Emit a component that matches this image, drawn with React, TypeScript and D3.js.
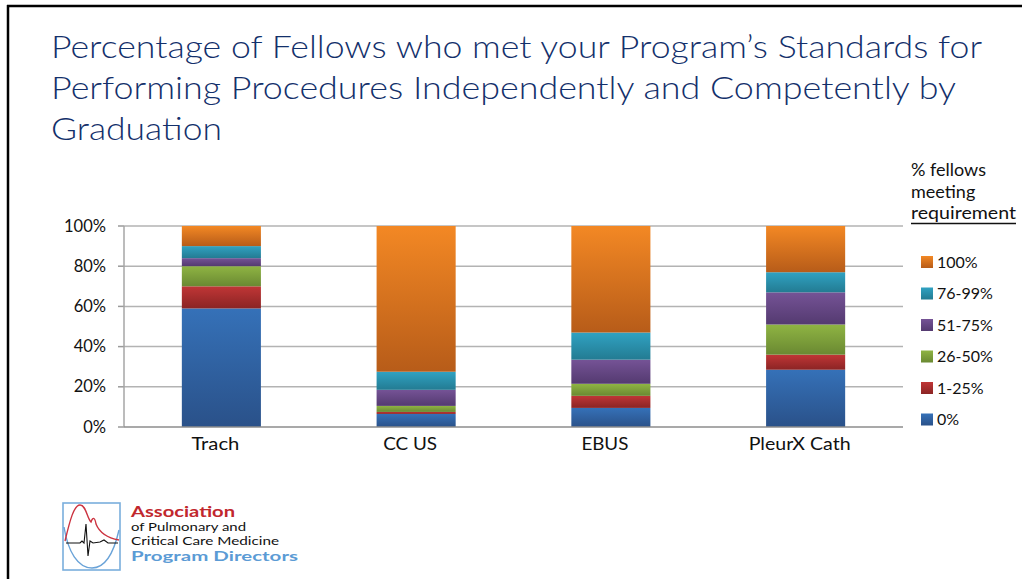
import React from "react";
import * as d3 from "d3";

const categories = ["Trach", "CC US", "EBUS", "PleurX Cath"];
const seriesKeys = ["0%", "1-25%", "26-50%", "51-75%", "76-99%", "100%"];
const pct0 = [59, 6.5, 9.5, 28.5];
const pct1to25 = [11, 1, 6, 7.5];
const pct26to50 = [10, 3, 6, 15];
const pct51to75 = [4, 8, 12, 16];
const pct76to99 = [6, 9, 13.5, 10];
const pct100 = [10, 72.5, 53, 23];
const yTicks = [0, 20, 40, 60, 80, 100];
const legendOrder = ["100%", "76-99%", "51-75%", "26-50%", "1-25%", "0%"];
const colorTop = ["#3571b8", "#c03636", "#8fb443", "#755396", "#30a2c2", "#f38824"];
const colorBottom = ["#2a5189", "#8b2424", "#6a8932", "#543a70", "#237b92", "#b75c19"];
const titleLines = [
  "Percentage of Fellows who met your Program\u2019s Standards for",
  "Performing Procedures Independently and Competently by",
  "Graduation",
];

export default function App() {
  const W = 1022, H = 579;
  const left = 124, right = 903, top = 226, bottom = 427;
  const x = d3.scaleBand().domain(categories).range([left, right]).padding(0);
  const y = d3.scaleLinear().domain([0, 100]).range([bottom, top]);
  const barW = x.bandwidth() * 0.406;
  const rows = categories.map((c, i) => ({
    cat: c,
    "0%": pct0[i],
    "1-25%": pct1to25[i],
    "26-50%": pct26to50[i],
    "51-75%": pct51to75[i],
    "76-99%": pct76to99[i],
    "100%": pct100[i],
  }));
  const stacked = d3.stack<any>().keys(seriesKeys)(rows);
  const font = "Lato, 'Open Sans', sans-serif";
  const titleFont = "Lato, 'Noto Sans', sans-serif";
  const titleLen = [931, 905, 171];
  const catLen = [48, 54, 47, 102];

  const red = "M65,541 C70,520 74,505 80,505 C86,505 87,518 91,522 C93,516 95,518 96,524 C100,534 108,538 119,540";
  const blue = "M64,527 C68,552 78,568 92,568 C106,568 114,552 119,530";
  const ecg = "M66,543 L80,543 L82,541 L84,543 L86,524 L88,556 L90,541 L93,543 L100,542 L104,540 L108,543 L118,543";

  return (
    <svg width={W} height={H} style={{ position: "absolute", left: 0, top: 0, background: "#fff" }}>
      <defs>
        {seriesKeys.map((k, i) => (
          <linearGradient key={k} id={`g${i}`} x1="0" y1="0" x2="0" y2="1">
            <stop offset="0" stopColor={colorTop[i]} />
            <stop offset="1" stopColor={colorBottom[i]} />
          </linearGradient>
        ))}
      </defs>
      <rect x={0} y={0} width={W} height={H} fill="#fff" />
      <line x1={7} y1={6} x2={W} y2={6} stroke="#000" strokeWidth={2.5} />
      <line x1={8} y1={5} x2={8} y2={H} stroke="#000" strokeWidth={2.5} />

      {titleLines.map((t, i) => (
        <text
          key={i}
          x={51}
          y={58 + i * 41}
          fontFamily={titleFont}
          fontWeight={300}
          fontSize={31}
          fill="#13306b"
          textLength={titleLen[i]}
          lengthAdjust="spacingAndGlyphs"
        >
          {t}
        </text>
      ))}

      {yTicks.map((t) => (
        <g key={t}>
          {t > 0 && (
            <line x1={left} x2={right} y1={y(t)} y2={y(t)} stroke="#b3b3b3" strokeWidth={1.5} />
          )}
          <line x1={left - 6} x2={left} y1={y(t)} y2={y(t)} stroke="#9a9a9a" strokeWidth={1.5} />
          <text x={106} y={y(t) + 5.5} textAnchor="end" fontFamily={font} fontSize={16.5} fill="#111">
            {t}%
          </text>
        </g>
      ))}
      <line x1={left} x2={left} y1={top} y2={bottom} stroke="#a6a6a6" strokeWidth={1.5} />

      {stacked.map((s, si) => (
        <g key={s.key}>
          {s.map((d, ci) => {
            const cx = (x(categories[ci]) as number) + x.bandwidth() / 2;
            return (
              <rect
                key={ci}
                x={cx - barW / 2}
                y={y(d[1])}
                width={barW}
                height={Math.max(0, y(d[0]) - y(d[1]))}
                fill={`url(#g${si})`}
              />
            );
          })}
        </g>
      ))}
      <line x1={left} x2={right} y1={bottom} y2={bottom} stroke="#8c8c8c" strokeWidth={1.5} />

      {categories.map((c, i) => (
        <text
          key={c}
          x={(x(c) as number) + x.bandwidth() / 2 - 6}
          y={450}
          textAnchor="middle"
          fontFamily={font}
          fontSize={17.5}
          fill="#111"
          textLength={catLen[i]}
          lengthAdjust="spacingAndGlyphs"
        >
          {c}
        </text>
      ))}

      <text fontFamily={font} fontSize={18} fill="#111">
        <tspan x={911} y={176}>% fellows</tspan>
        <tspan x={911} y={198}>meeting</tspan>
      </text>
      <text x={911} y={219} fontFamily={font} fontSize={18} fill="#111" textLength={105} lengthAdjust="spacingAndGlyphs">
        requirement
      </text>
      <line x1={911} x2={1016} y1={223.5} y2={223.5} stroke="#111" strokeWidth={1.3} />
      {legendOrder.map((k, i) => {
        const si = seriesKeys.indexOf(k);
        const cy = 262 + i * 31.5;
        return (
          <g key={k}>
            <rect x={921} y={cy - 6} width={12} height={12} fill={`url(#g${si})`} />
            <text x={937} y={cy + 5.5} fontFamily={font} fontSize={16} fill="#111">
              {k}
            </text>
          </g>
        );
      })}

      <rect x={63} y={503} width={57} height={67} fill="none" stroke="#7aaedc" strokeWidth={1.6} />
      <path d={blue} fill="none" stroke="#6aa3d8" strokeWidth={1.4} />
      <path d={red} fill="none" stroke="#cc3340" strokeWidth={1.4} />
      <path d={ecg} fill="none" stroke="#111" strokeWidth={1.1} />
      <text x={131} y={517} fontFamily={font} fontWeight={700} fontSize={15} fill="#c1272d" textLength={104} lengthAdjust="spacingAndGlyphs">
        Association
      </text>
      <text x={131} y={531} fontFamily={font} fontSize={11} fill="#111" textLength={115} lengthAdjust="spacingAndGlyphs">
        of Pulmonary and
      </text>
      <text x={131} y={544.5} fontFamily={font} fontSize={11} fill="#111" textLength={148} lengthAdjust="spacingAndGlyphs">
        Critical Care Medicine
      </text>
      <text x={131} y={561} fontFamily={font} fontWeight={700} fontSize={14} fill="#5b9bd5" textLength={167} lengthAdjust="spacingAndGlyphs">
        Program Directors
      </text>
    </svg>
  );
}
